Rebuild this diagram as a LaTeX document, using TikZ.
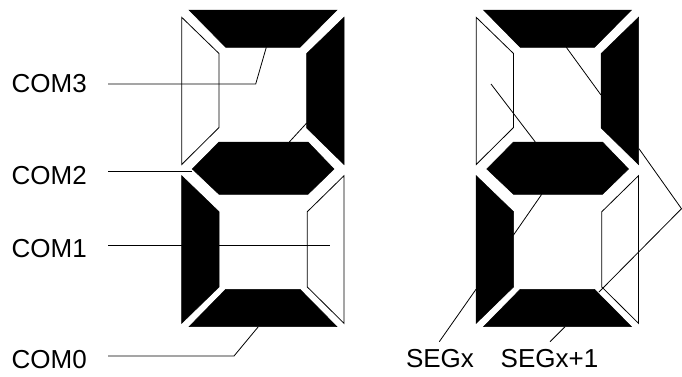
\documentclass[tikz,border=0pt]{standalone}
\usepackage{fontspec}
\setmainfont{Liberation Sans}
\usetikzlibrary{positioning}

\begin{document}
\begin{tikzpicture}[
  x=1pt, y=-1pt,
  lit/.style={fill=black, draw=black, line width=0.5pt},
  unlit/.style={draw=black, line width=0.8pt, line join=miter},
  wire/.style={draw=black, line width=0.8pt},
  lbl/.style={anchor=base west, inner sep=0pt, font=\fontsize{26}{30}\selectfont}
]
  \useasboundingbox (0,0) rectangle (682,376);

  % left digit
  \path[lit]   (189,10) -- (337,10) -- (300,47.3) -- (225.7,47.3) -- cycle;
  \path[unlit] (181.7,17.3) -- (219,53.5) -- (219,127.5) -- (181.7,164.5) -- cycle;
  \path[lit]   (344,17.3) -- (344,164.5) -- (306.7,128) -- (306.7,53.5) -- cycle;
  \path[lit]   (192.3,169) -- (219,142) -- (308,142) -- (334,169) -- (308,194.3) -- (219,194.3) -- cycle;
  \path[lit]   (181.7,175.7) -- (219,211.7) -- (219,287) -- (181.7,323.3) -- cycle;
  \path[unlit] (344,175.7) -- (344,323.3) -- (307.3,287) -- (307.3,211.7) -- cycle;
  \path[lit]   (189,326.7) -- (337,326.7) -- (300,289.3) -- (225.7,289.3) -- cycle;

  % right digit
  \begin{scope}[xshift=294.5pt]
    \path[lit]   (189,10) -- (337,10) -- (300,47.3) -- (225.7,47.3) -- cycle;
    \path[unlit] (181.7,17.3) -- (219,53.5) -- (219,127.5) -- (181.7,164.5) -- cycle;
    \path[lit]   (344,17.3) -- (344,164.5) -- (306.7,128) -- (306.7,53.5) -- cycle;
    \path[lit]   (192.3,169) -- (219,142) -- (308,142) -- (334,169) -- (308,194.3) -- (219,194.3) -- cycle;
    \path[lit]   (181.7,175.7) -- (219,211.7) -- (219,287) -- (181.7,323.3) -- cycle;
    \path[unlit] (344,175.7) -- (344,323.3) -- (307.3,287) -- (307.3,211.7) -- cycle;
    \path[lit]   (189,326.7) -- (337,326.7) -- (300,289.3) -- (225.7,289.3) -- cycle;
  \end{scope}

  \node[lbl] (com3) at (11.5,92.3)  {COM3};
  \node[lbl] (com2) at (11.5,184)   {COM2};
  \node[lbl] (com1) at (11.5,257.3) {COM1};
  \node[lbl] (com0) at (11.5,368.3) {COM0};
  \node[lbl] (segx)  at (405.8,367.7) {SEGx};
  \node[lbl] (segxp) at (500.5,367.7) {SEGx+1};

  % free ends of the wires
  \coordinate (w3) at (108,84);
  \coordinate (w2) at (108,171.7);
  \coordinate (w1) at (108,245.7);
  \coordinate (w0) at (108,356);
  \coordinate (sa) at (439.3,341.7);
  \coordinate (sb) at (550,341.7);

  \draw[wire] (w3) -- (255.7,84) -- (266.3,47.3);
  \draw[wire] (306.7,123) -- (289.3,142);
  \draw[wire] (w2) -- (192.3,171.7);
  \draw[wire] (w1) -- (329.7,245.7);
  \draw[wire] (w0) -- (234,356) -- (258.3,326.7);

  \draw[wire] (566.3,47.3) -- (601,95);
  \draw[wire] (491,84) -- (535.3,142);
  \draw[wire] (541.7,194.3) -- (513.3,235.3);
  \draw[wire] (639,148.7) -- (681.5,208.7) -- (599,292);
  \draw[wire] (476,289.3) -- (sa);
  \draw[wire] (565,326.7) -- (sb);
\end{tikzpicture}
\end{document}
